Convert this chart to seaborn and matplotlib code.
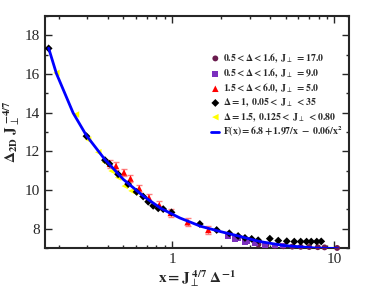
import numpy as np
import pandas as pd
import matplotlib
matplotlib.use("Agg")
import matplotlib.pyplot as plt
import seaborn as sns
from matplotlib.ticker import FixedLocator, NullFormatter, MultipleLocator

# Delta = 1, 0.05 < J < 35 (black diamonds)
x_d1 = [0.173, 0.296, 0.385, 0.41, 0.464, 0.535, 0.603, 0.662, 0.711, 0.763, 0.82, 0.88, 0.99,
        1.48, 1.88, 2.25, 2.55, 2.81, 3.09, 3.39, 4.0, 4.51, 5.09, 5.66, 6.2, 6.74, 7.2, 7.79, 8.3]
y_d1 = [17.32, 12.78, 11.54, 11.35, 10.81, 10.3, 9.9, 9.66, 9.39, 9.18, 9.05, 9.01, 8.84,
        8.24, 7.93, 7.76, 7.62, 7.52, 7.47, 7.40, 7.48, 7.38, 7.35, 7.33, 7.33, 7.33, 7.33, 7.33, 7.34]

# Delta = 1.5, 0.125 < J < 0.80 (yellow left triangles)
x_d15 = [0.193, 0.255, 0.303, 0.35, 0.384, 0.423, 0.464, 0.51, 0.561, 0.589]
y_d15 = [16.05, 13.9, 12.6, 11.95, 11.44, 10.98, 10.64, 10.2, 9.95, 9.87]

# 1.5 < Delta < 6.0, J = 5.0 (red triangles)
x_j5 = [0.413, 0.45, 0.504, 0.553, 0.626, 0.718, 0.832, 0.98, 1.245, 1.67]
y_j5 = [11.35, 11.24, 10.9, 10.59, 10.08, 9.61, 9.22, 8.81, 8.33, 7.93]
err_j5 = [0.2, 0.2, 0.2, 0.2, 0.2, 0.2, 0.2, 0.2, 0.2, 0.2]

# 0.5 < Delta < 1.6, J = 9.0 (purple squares)
x_j9 = [2.21, 2.44, 2.55, 2.81, 2.88, 3.24, 3.72, 4.3, 4.8]
y_j9 = [7.61, 7.47, 7.50, 7.30, 7.38, 7.25, 7.15, 7.10, 7.08]

# 0.5 < Delta < 1.6, J = 17.0 (dark purple circles)
x_j17 = [3.4, 3.8, 4.3, 4.85, 5.5, 6.2, 7.0, 7.9, 8.7, 10.4]
y_j17 = [7.18, 7.14, 7.11, 7.09, 7.07, 7.06, 7.05, 7.04, 7.03, 7.0]

# fit curve, points
x_fit = [0.173, 0.193, 0.245, 0.296, 0.384, 0.499, 0.662, 0.85, 1.116, 1.5, 2.0, 2.5, 3.48, 4.84, 7.79, 10.5]
y_fit = [17.33, 16.03, 13.98, 12.81, 11.58, 10.55, 9.69, 9.05, 8.55, 8.12, 7.84, 7.64, 7.33, 7.13, 6.99, 6.97]

sns.set_style("ticks")
plt.rcParams["font.family"] = ["Liberation Serif", "DejaVu Serif"]
plt.rcParams["mathtext.fontset"] = "stix"

fig = plt.figure(figsize=(3.74, 2.89), dpi=100)
ax = fig.add_axes([0.12, 0.142, 0.813, 0.803])

ax.set_xscale("log")

J = r"\mathbf{J}_{\perp}\ "
ms = 18
sns.scatterplot(x=x_j17, y=y_j17, ax=ax, marker="o", color="#6a1b4d", s=ms, edgecolor="none",
                label=r"$\mathbf{0.5 < \Delta < 1.6,}\ " + J + r"\mathbf{= 17.0}$", zorder=3, clip_on=False)
sns.scatterplot(x=x_j9, y=y_j9, ax=ax, marker="s", color="#7b2fbe", s=ms, edgecolor="none",
                label=r"$\mathbf{0.5 < \Delta < 1.6,}\ " + J + r"\mathbf{= 9.0}$", zorder=3)
ax.errorbar(x_j5, y_j5, yerr=err_j5, fmt="none", ecolor="#ff8080", elinewidth=0.8, capsize=2, zorder=2)
sns.scatterplot(x=x_j5, y=y_j5, ax=ax, marker="^", color="#ff0000", s=ms + 4, edgecolor="none",
                label=r"$\mathbf{1.5 < \Delta < 6.0,}\ " + J + r"\mathbf{= 5.0}$", zorder=3)
sns.scatterplot(x=x_d1, y=y_d1, ax=ax, marker="D", color="black", s=ms - 2, edgecolor="none",
                label=r"$\mathbf{\Delta = 1,\ 0.05 <}\ " + J + r"\mathbf{< 35}$", zorder=4)
sns.scatterplot(x=x_d15, y=y_d15, ax=ax, marker="<", color="#ffff00", s=ms + 4, edgecolor="none",
                label=r"$\mathbf{\Delta = 1.5,\ 0.125 <}\ " + J + r"\mathbf{< 0.80}$", zorder=3)
sns.lineplot(x=x_fit, y=y_fit, ax=ax, color="#0000ff", linewidth=2, sort=False,
             label=r"$\mathbf{F(x) = 6.8 + 1.97/x\ -\ 0.06/x^{2}}$", zorder=5)

ax.set_xlim(0.164, 12.3)
ax.set_ylim(7, 19)
ax.set_xticks([1, 10])
ax.set_xticklabels(["1", "10"])
minors = [m * 10.0 ** e for e in (-1, 0, 1) for m in range(2, 10)]
ax.xaxis.set_minor_locator(FixedLocator(minors))
ax.xaxis.set_minor_formatter(NullFormatter())
ax.set_yticks([8, 10, 12, 14, 16, 18])
ax.yaxis.set_minor_locator(MultipleLocator(1))

ax.tick_params(which="both", direction="in", top=True, right=True, labelsize=11, width=1)
ax.tick_params(which="major", length=5)
ax.tick_params(which="minor", length=2.5)
for s in ax.spines.values():
    s.set_linewidth(1.5)

ax.set_xlabel(r"$\mathbf{x = J}_{\perp}^{\ \mathbf{4/7}}\ \mathbf{\Delta^{-1}}$", fontsize=11, labelpad=2)
ax.set_ylabel(r"$\mathbf{\Delta_{2D}\ J}_{\perp}^{\ \mathbf{-4/7}}$", fontsize=11, labelpad=2)

leg = ax.legend(loc="upper left", bbox_to_anchor=(0.535, 0.865), frameon=False, fontsize=7,
                handlelength=0.8, handletextpad=0.4, labelspacing=0.15, borderaxespad=0)

fig.savefig("out.png", dpi=100)
